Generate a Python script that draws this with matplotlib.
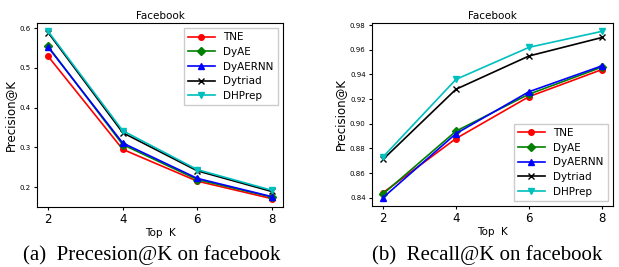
import matplotlib.pyplot as plt

top_k = [2, 4, 6, 8]
methods = ["TNE", "DyAE", "DyAERNN", "Dytriad", "DHPrep"]

# precision@K (left panel)
prec_tne = [0.529, 0.295, 0.215, 0.171]
prec_dyae = [0.554, 0.307, 0.219, 0.175]
prec_dyaernn = [0.552, 0.311, 0.222, 0.176]
prec_dytriad = [0.589, 0.337, 0.241, 0.189]
prec_dhprep = [0.592, 0.342, 0.244, 0.192]

# recall@K (right panel)
rec_tne = [0.844, 0.888, 0.922, 0.944]
rec_dyae = [0.843, 0.894, 0.924, 0.946]
rec_dyaernn = [0.840, 0.892, 0.926, 0.947]
rec_dytriad = [0.871, 0.928, 0.955, 0.970]
rec_dhprep = [0.873, 0.936, 0.962, 0.975]

colors = ["red", "green", "blue", "black", "c"]
markers = ["o", "D", "^", "x", "v"]

fig = plt.figure(figsize=(6.19, 2.67), dpi=100)
ax1 = fig.add_axes([37 / 619, 1 - 207 / 267, 246 / 619, 184 / 267])
ax2 = fig.add_axes([372 / 619, 1 - 206 / 267, 241 / 619, 183 / 267])

panels = [
    (ax1, [prec_tne, prec_dyae, prec_dyaernn, prec_dytriad, prec_dhprep], "upper right"),
    (ax2, [rec_tne, rec_dyae, rec_dyaernn, rec_dytriad, rec_dhprep], "lower right"),
]

for ax, series, loc in panels:
    for name, vals, c, m in zip(methods, series, colors, markers):
        ax.plot(top_k, vals, color=c, marker=m, markersize=4, linewidth=1.2, label=name)
    ax.set_title("Facebook", fontsize=7.5, pad=3)
    ax.set_xlabel("Top  K", fontsize=7.5, labelpad=1)
    ax.set_ylabel("Precision@K", fontsize=8.5, labelpad=2)
    ax.set_xticks(top_k)
    ax.tick_params(axis="x", labelsize=8.5, length=2.5, pad=2)
    ax.tick_params(axis="y", labelsize=5, length=2.5, pad=2)
    ax.legend(loc=loc, fontsize=7.5, handlelength=2.6, labelspacing=0.45,
              borderpad=0.4, fancybox=False, framealpha=1)

ax1.set_yticks([0.2, 0.3, 0.4, 0.5, 0.6])
ax2.set_yticks([0.84, 0.86, 0.88, 0.90, 0.92, 0.94, 0.96, 0.98])

fig.text(152 / 619, 1 - 255 / 267, "(a)  Precesion@K on facebook", ha="center", va="center",
         fontsize=15, family="Liberation Serif")
fig.text(487 / 619, 1 - 255 / 267, "(b)  Recall@K on facebook", ha="center", va="center",
         fontsize=15, family="Liberation Serif")

fig.savefig("out.png", dpi=100)
